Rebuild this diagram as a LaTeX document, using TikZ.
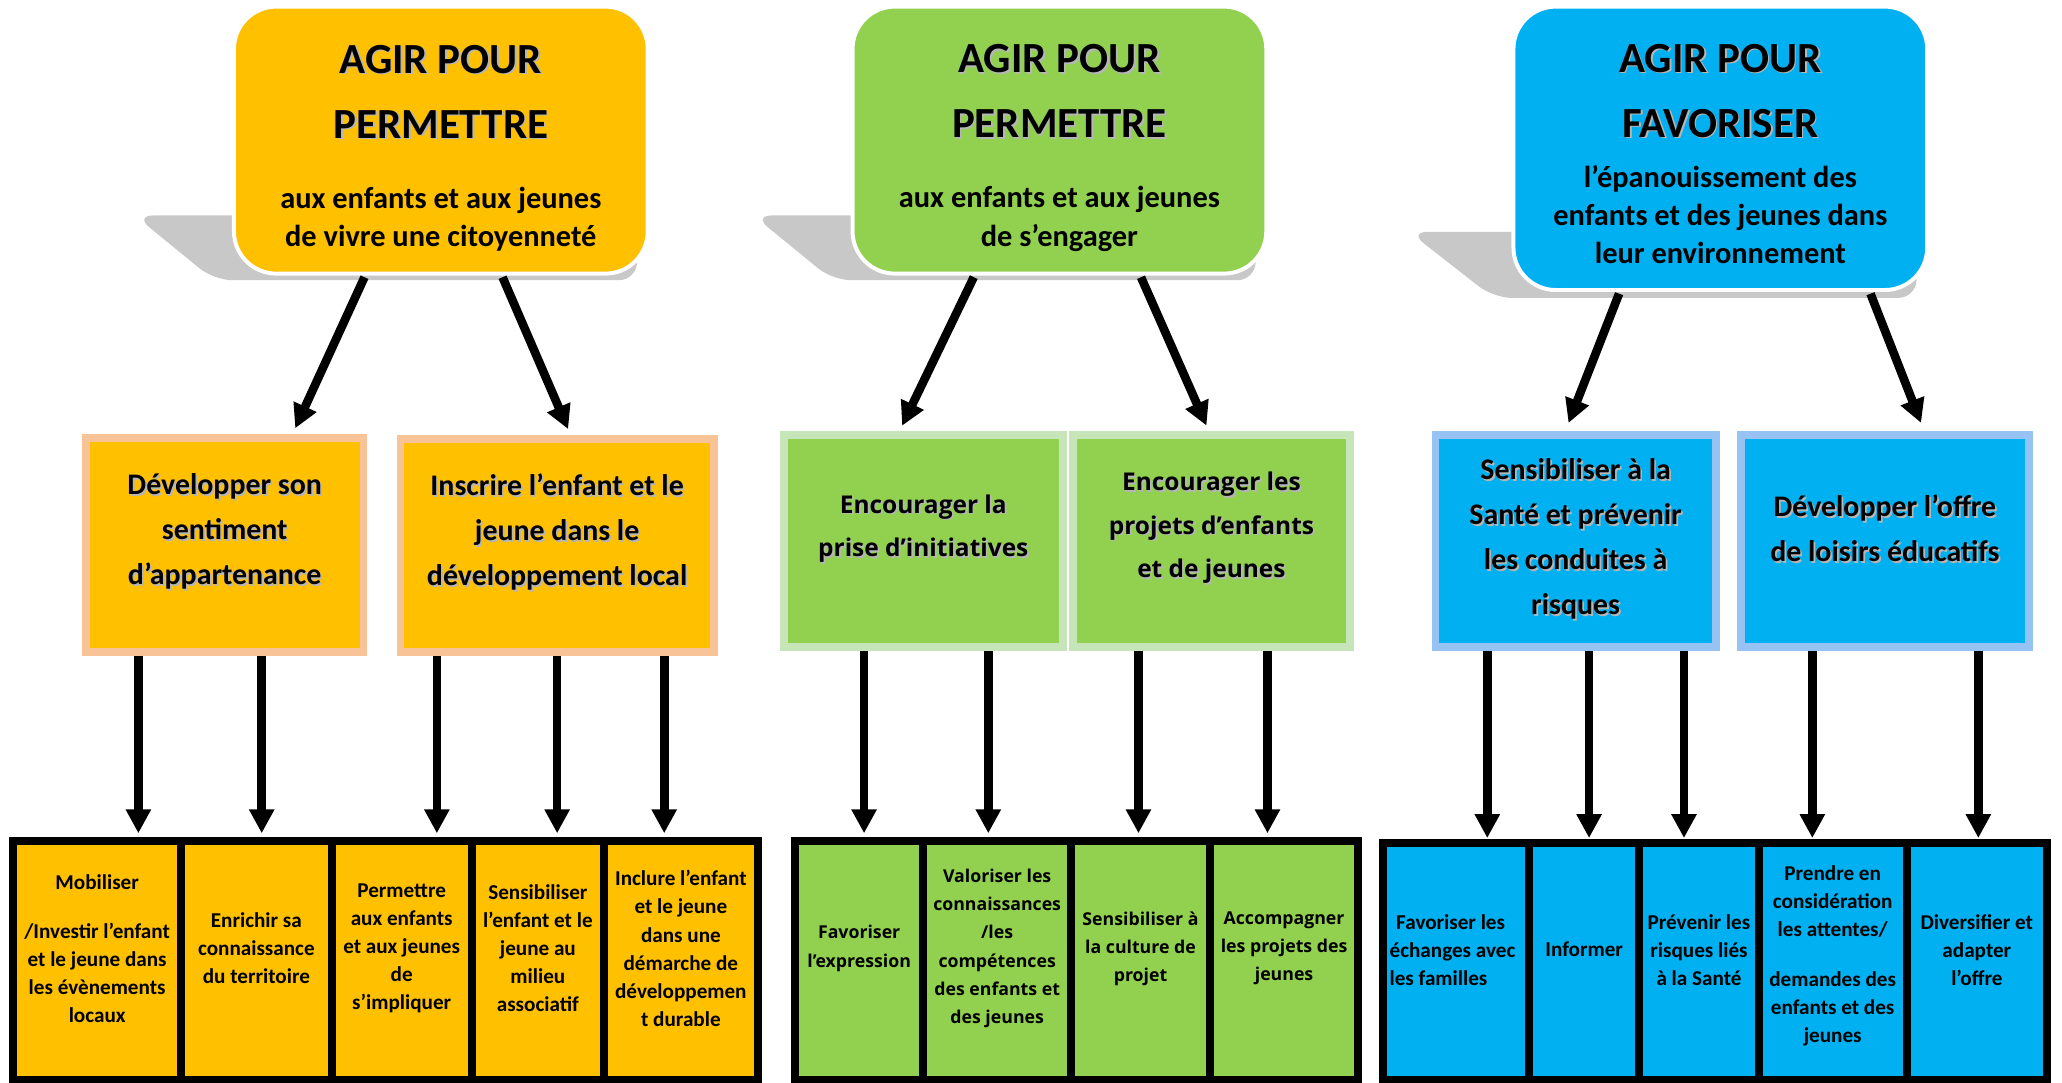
\documentclass[tikz,border=0pt]{standalone}
\usepackage{fontspec}
\setmainfont{Carlito}
\newfontfamily\greenfont{Open Sans}
\usepackage{xcolor}
\usepackage{tikz}
\usetikzlibrary{backgrounds,calc,positioning,arrows.meta}

\definecolor{orangefill}{HTML}{FFC000}
\definecolor{orangeline}{HTML}{F8C396}
\definecolor{greenfill}{HTML}{92D050}
\definecolor{greenline}{HTML}{C6E6B9}
\definecolor{bluefill}{HTML}{00B0F0}
\definecolor{blueline}{HTML}{96C3F3}
\definecolor{shadowgray}{HTML}{C8C8C8}
\definecolor{textshadow}{HTML}{7A7A7A}

\setlength{\parindent}{0pt}
\newcommand{\titlesize}{\fontsize{32.5}{49.2}\selectfont}
\newcommand{\subtitlesize}{\fontsize{23}{29}\selectfont}
\newcommand{\liftgap}{\par\vspace*{\liftamount}}
\newcommand{\sh}[1]{\leavevmode\rlap{\hspace{1.3pt}\raisebox{-1.3pt}{\color{textshadow!55}#1}}#1}

\begin{document}
\begin{tikzpicture}[
    x=1pt, y=-1pt,
    every node/.style={anchor=north west},
    lift/.store in=\liftamount, lift=0pt,
    topbox/.style={draw=white, line width=3pt, rounded corners=32pt, outer sep=0pt, inner sep=0pt,
        minimum width=313pt, text width=300pt, align=flush center, font=\bfseries,
        execute at end node=\liftgap},
    midbox/.style={line width=6pt, outer sep=0pt, inner sep=0pt, align=flush center,
        font=\bfseries\fontsize{22.6}{34}\selectfont, lift=19pt,
        execute at end node=\liftgap},
    greenmid/.style={midbox, draw=greenline, fill=greenfill, lift=18pt,
        font=\greenfont\bfseries\fontsize{18.5}{33}\selectfont},
    cellbox/.style={draw=black, line width=6pt, outer sep=0pt, inner xsep=2pt, inner ysep=0pt,
        minimum height=181pt, align=flush center, font=\bfseries\fontsize{16}{21.2}\selectfont, lift=18pt,
        execute at end node=\liftgap},
    orangecell/.style={cellbox, fill=orangefill},
    greencell/.style={cellbox, fill=greenfill, font=\greenfont\bfseries\fontsize{13.4}{21.2}\selectfont},
    bluecell/.style={cellbox, fill=bluefill, minimum height=179pt},
    arr/.style={line width=6.5pt, -{Triangle[width=18pt,length=18pt]}, shorten <=3pt},
]
\useasboundingbox (0,0) rectangle (1560,818.6);

\node [topbox, fill=orangefill, minimum height=202pt, lift=-12pt] (topA) at (177,5)
    {{\titlesize \sh{AGIR POUR}\\\sh{PERMETTRE}\par}\vspace{24pt}{\subtitlesize aux enfants et aux jeunes\\de vivre une citoyenneté\par}};
\node [topbox, fill=greenfill, minimum height=202pt, lift=-12pt] (topB) at (645,5)
    {{\titlesize \sh{AGIR POUR}\\\sh{PERMETTRE}\par}\vspace{24pt}{\subtitlesize aux enfants et aux jeunes\\de s’engager\par}};
\node [topbox, fill=bluefill, minimum height=214.4pt, lift=-8.6pt] (topC) at (1145,5)
    {{\titlesize \sh{AGIR POUR}\\\sh{FAVORISER}\par}\vspace{8.8pt}{\subtitlesize l’épanouissement des\\enfants et des jeunes dans\\leur environnement\par}};

\begin{scope}[on background layer]
\fill [shadowgray, rounded corners=14pt] ($(topA.south west)+(-75,-44)$) -- ($(topA.south west)+(-15,5)$) -- ($(topA.south east)+(-8,5)$) -- ($(topA.south east)+(-8,-44)$) -- cycle;
\fill [shadowgray, rounded corners=14pt] ($(topB.south west)+(-75,-44)$) -- ($(topB.south west)+(-15,5)$) -- ($(topB.south east)+(-8,5)$) -- ($(topB.south east)+(-8,-44)$) -- cycle;
\fill [shadowgray, rounded corners=14pt] ($(topC.south west)+(-79,-44)$) -- ($(topC.south west)+(-15,6)$) -- ($(topC.south east)+(-8,6)$) -- ($(topC.south east)+(-8,-44)$) -- cycle;
\end{scope}

\node [midbox, draw=orangeline, fill=orangefill, minimum width=210pt, minimum height=161.7pt, text width=200pt] (midA1) at (65,331.3)
    {\sh{Développer son}\\\sh{sentiment}\\\sh{d’appartenance}};
\node [midbox, draw=orangeline, fill=orangefill, minimum width=237pt, minimum height=161pt, text width=227pt] (midA2) at (303,332)
    {\sh{Inscrire l’enfant et le}\\\sh{jeune dans le}\\\sh{développement local}};
\node [greenmid, minimum width=211pt, minimum height=160.4pt, text width=201pt] (midB1) at (593,329.3)
    {\sh{Encourager la}\\\sh{prise d’initiatives}};
\node [greenmid, lift=19pt, minimum width=209pt, minimum height=160.4pt, text width=199pt] (midB2) at (812,329.3)
    {\sh{Encourager les}\\\sh{projets d’enfants}\\\sh{et de jeunes}};
\node [midbox, draw=blueline, fill=bluefill, lift=2pt, minimum width=212pt, minimum height=160.4pt, text width=202pt] (midC1) at (1086,329.3)
    {\sh{Sensibiliser à la}\\\sh{Santé et prévenir}\\\sh{les conduites à}\\\sh{risques}};
\node [midbox, draw=blueline, fill=bluefill, lift=18pt, minimum width=218pt, minimum height=160.4pt, text width=208pt] (midC2) at (1317,329.3)
    {\sh{Développer l’offre}\\\sh{de loisirs éducatifs}};

\node [orangecell, minimum width=126.8pt, text width=122.8pt] (cellA1) at (10.1,636)
    {Mobiliser\\[16pt]/Investir l’enfant\\et le jeune dans\\les évènements\\locaux};
\node [orangecell, minimum width=114.1pt, text width=110.1pt, right=0 of cellA1] (cellA2)
    {Enrichir sa\\connaissance\\du territoire};
\node [orangecell, minimum width=105.8pt, text width=101.8pt, right=0 of cellA2] (cellA3)
    {Permettre\\aux enfants\\et aux jeunes\\de\\s’impliquer};
\node [orangecell, minimum width=100.2pt, text width=96.2pt, right=0 of cellA3] (cellA4)
    {Sensibiliser\\l’enfant et le\\jeune au\\milieu\\associatif};
\node [orangecell, minimum width=116.2pt, text width=112.2pt, right=0 of cellA4] (cellA5)
    {Inclure l’enfant\\et le jeune\\dans une\\démarche de\\développemen\\t durable};

\node [greencell, minimum width=97.2pt, text width=93.2pt] (cellB1) at (601.4,636)
    {Favoriser\\l’expression};
\node [greencell, minimum width=111.6pt, text width=107.6pt, right=0 of cellB1] (cellB2)
    {Valoriser les\\connaissances\\/les\\compétences\\des enfants et\\des jeunes};
\node [greencell, minimum width=105.3pt, text width=101.3pt, right=0 of cellB2] (cellB3)
    {Sensibiliser à\\la culture de\\projet};
\node [greencell, minimum width=111.9pt, text width=107.9pt, right=0 of cellB3] (cellB4)
    {Accompagner\\les projets des\\jeunes};

\node [bluecell, align=flush left, inner xsep=5pt, minimum width=110.5pt, text width=100.5pt] (cellC1) at (1046.3,638)
    {\hspace{5pt}Favoriser les\\échanges avec\\les familles};
\node [bluecell, minimum width=83.4pt, text width=79.4pt, right=0 of cellC1] (cellC2)
    {Informer};
\node [bluecell, minimum width=90.3pt, text width=86.3pt, right=0 of cellC2] (cellC3)
    {Prévenir les\\risques liés\\à la Santé};
\node [bluecell, lift=9pt, minimum width=112pt, text width=108pt, right=0 of cellC3] (cellC4)
    {Prendre en\\considération\\les attentes/\\[17pt]demandes des\\enfants et des\\jeunes};
\node [bluecell, minimum width=106.1pt, text width=102.1pt, right=0 of cellC4] (cellC5)
    {Diversifier et\\adapter\\l’offre};

\draw [arr, shorten >=8pt] (topA.south -| 277,0) -- (midA1.north -| 220,0);
\draw [arr, shorten >=8pt] (topA.south -| 379,0) -- (midA2.north -| 433,0);
\draw [arr, shorten >=8pt] (topB.south -| 738,0) -- (midB1.north -| 679,0);
\draw [arr, shorten >=8pt] (topB.south -| 862,0) -- (midB2.north -| 916,0);
\draw [arr, shorten >=10pt] (topC.south -| 1226,0) -- (midC1.north -| 1183,0);
\draw [arr, shorten >=10pt] (topC.south -| 1414,0) -- (midC2.north -| 1457,0);

\draw [arr, shorten >=5.6pt] (midA1.south -| 104.7,0) -- (cellA1.north -| 104.7,0);
\draw [arr, shorten >=5.6pt] (midA1.south -| 198,0) -- (cellA2.north -| 198,0);
\draw [arr, shorten >=5.6pt] (midA2.south -| 330.5,0) -- (cellA3.north -| 330.5,0);
\draw [arr, shorten >=5.6pt] (midA2.south -| 421.5,0) -- (cellA4.north -| 421.5,0);
\draw [arr, shorten >=5.6pt] (midA2.south -| 502.5,0) -- (cellA5.north -| 502.5,0);
\draw [arr, shorten >=5.6pt] (midB1.south -| 653.7,0) -- (cellB1.north -| 653.7,0);
\draw [arr, shorten >=5.6pt] (midB1.south -| 747.7,0) -- (cellB2.north -| 747.7,0);
\draw [arr, shorten >=5.6pt] (midB2.south -| 861.3,0) -- (cellB3.north -| 861.3,0);
\draw [arr, shorten >=5.6pt] (midB2.south -| 958.9,0) -- (cellB4.north -| 958.9,0);
\draw [arr, shorten >=4pt] (midC1.south -| 1125.2,0) -- (cellC1.north -| 1125.2,0);
\draw [arr, shorten >=4pt] (midC1.south -| 1202.2,0) -- (cellC2.north -| 1202.2,0);
\draw [arr, shorten >=4pt] (midC1.south -| 1274,0) -- (cellC3.north -| 1274,0);
\draw [arr, shorten >=4pt] (midC2.south -| 1371.1,0) -- (cellC4.north -| 1371.1,0);
\draw [arr, shorten >=4pt] (midC2.south -| 1496.7,0) -- (cellC5.north -| 1496.7,0);
\end{tikzpicture}
\end{document}
